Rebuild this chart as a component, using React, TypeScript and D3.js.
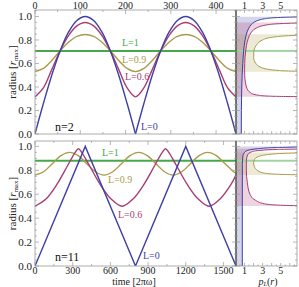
import * as d3 from "d3";
import React from "react";

// n=2: time in units of 2π/ω, radius in r_max
const timeN2 = [0, 18.5, 37, 55.5, 74, 92.5, 111, 129.5, 148, 166.5, 185, 203.5, 222, 240.5, 259, 277.5, 296, 314.5, 333, 351.5, 370, 388.5, 407, 425.5, 444];
const n2L0 = [0, 0.259, 0.5, 0.707, 0.866, 0.966, 1, 0.966, 0.866, 0.707, 0.5, 0.259, 0, 0.259, 0.5, 0.707, 0.866, 0.966, 1, 0.966, 0.866, 0.707, 0.5, 0.259, 0];
const n2L06 = [0.316, 0.392, 0.548, 0.707, 0.837, 0.92, 0.949, 0.92, 0.837, 0.707, 0.548, 0.392, 0.316, 0.392, 0.548, 0.707, 0.837, 0.92, 0.949, 0.92, 0.837, 0.707, 0.548, 0.392, 0.316];
const n2L09 = [0.531, 0.558, 0.625, 0.707, 0.78, 0.83, 0.847, 0.83, 0.78, 0.707, 0.625, 0.558, 0.531, 0.558, 0.625, 0.707, 0.78, 0.83, 0.847, 0.83, 0.78, 0.707, 0.625, 0.558, 0.531];
const n2L1 = 0.707;

// n=11
const n11L0Time = [0, 400, 800, 1200, 1600];
const n11L0 = [0, 1, 0, 1, 0];
const n11L06Time = [0, 87, 173, 260, 320, 346, 372, 433, 520, 606, 693, 780, 866, 953, 1013, 1039, 1065, 1126, 1213, 1299, 1386, 1473, 1559, 1600];
const n11L06 = [0.5, 0.56, 0.68, 0.84, 0.95, 0.98, 0.95, 0.84, 0.68, 0.56, 0.5, 0.56, 0.68, 0.84, 0.95, 0.98, 0.95, 0.84, 0.68, 0.56, 0.5, 0.56, 0.68, 0.76];
const n11L09Time = [0, 69, 137, 206, 275, 344, 413, 481, 550, 619, 687, 756, 825, 894, 963, 1031, 1100, 1169, 1237, 1306, 1375, 1444, 1513, 1581, 1600];
const n11L09 = [0.76, 0.788, 0.855, 0.922, 0.95, 0.922, 0.855, 0.788, 0.76, 0.788, 0.855, 0.922, 0.95, 0.922, 0.855, 0.788, 0.76, 0.788, 0.855, 0.922, 0.95, 0.922, 0.855, 0.788, 0.775];
const n11L1 = 0.88;

// radial distributions p_L(r): radius, density
const n2DensL0R = [0, 0.2, 0.4, 0.6, 0.7, 0.8, 0.85, 0.9, 0.93, 0.95, 0.97, 0.98, 0.99, 0.995, 0.998];
const n2DensL0P = [0.64, 0.65, 0.69, 0.8, 0.89, 1.06, 1.21, 1.46, 1.73, 2.04, 2.62, 3.2, 4.5, 6.4, 10];
const n2DensL06R = [0.3165, 0.318, 0.322, 0.33, 0.35, 0.4, 0.5, 0.55, 0.6, 0.707, 0.8, 0.85, 0.9, 0.93, 0.94, 0.945, 0.948];
const n2DensL06P = [17, 6.8, 3.78, 2.5, 1.68, 1.21, 1.02, 1.01, 1.02, 1.125, 1.36, 1.63, 2.27, 3.61, 5.28, 8.1, 18];
const n2DensL09R = [0.5295, 0.532, 0.535, 0.54, 0.56, 0.6, 0.65, 0.7, 0.75, 0.8, 0.82, 0.84, 0.845, 0.848];
const n2DensL09P = [26, 9.4, 6.56, 4.88, 3.05, 2.25, 2.01, 2.03, 2.26, 3.0, 3.82, 6.83, 10.5, 30];

const n11DensL0R = [0, 0.5, 0.85, 0.92, 0.95, 0.97, 0.98, 0.99, 0.995, 0.999];
const n11DensL0P = [0.75, 0.75, 0.76, 0.82, 1.0, 1.5, 2.4, 4.5, 8, 15];
const n11DensL06R = [0.501, 0.505, 0.51, 0.52, 0.55, 0.6, 0.7, 0.8, 0.88, 0.93, 0.955, 0.967, 0.974, 0.978, 0.98];
const n11DensL06P = [15, 6.4, 4.5, 3.2, 2.2, 1.6, 1.3, 1.2, 1.2, 1.35, 1.8, 2.8, 4.5, 8, 15];
const n11DensL09R = [0.7605, 0.762, 0.765, 0.77, 0.78, 0.8, 0.83, 0.86, 0.89, 0.91, 0.925, 0.935, 0.942, 0.946, 0.948];
const n11DensL09P = [15, 8, 5.5, 4.0, 3.0, 2.4, 2.1, 2.0, 2.1, 2.4, 3.0, 4.0, 5.5, 8, 15];

const topTicks = [0, 100, 200, 300, 400];
const bottomTicks = [0, 300, 600, 900, 1200, 1500];
const radiusTicks = [0, 0.2, 0.4, 0.6, 0.8, 1.0];
const pTicks = [1, 3, 5];

const BLUE = "#3f3fa6";
const RED = "#a83d74";
const OLIVE = "#a99b4b";
const GREEN = "#45a84a";
const FRAME = "#9a9a9a";
const FONT = "'Liberation Serif', 'DejaVu Serif', serif";

const xN2 = d3.scaleLinear().domain([0, 444]).range([35, 236]);
const xN11 = d3.scaleLinear().domain([0, 1600]).range([35, 236]);
const yN2 = d3.scaleLinear().domain([0, 1.055]).range([134, 10]);
const yN11 = d3.scaleLinear().domain([0, 1.045]).range([266, 141]);
const pX = d3.scaleLinear().domain([0, 6.8]).range([235.5, 297]);

const zip = (a: number[], b: number[]) => a.map((v, i) => [v, b[i]] as [number, number]);

// split |sin|-like curve into arches between zeros so the cusps stay sharp
const arches = (pts: [number, number][]) => {
  const segs: [number, number][][] = [];
  let cur: [number, number][] = [];
  pts.forEach((p) => {
    cur.push(p);
    if (p[1] === 0 && cur.length > 1) {
      segs.push(cur);
      cur = [p];
    }
  });
  if (cur.length > 1) segs.push(cur);
  return segs;
};

const Panel = ({ id, x, y, timeTicks, minorStep, series, dens, level, n, labels, showTop }: any) => {
  const [y0, y1] = [y.range()[1], y.range()[0]];
  const line = d3.line<[number, number]>().x((d) => x(d[0])).y((d) => y(d[1]));
  const smooth = d3.line<[number, number]>().x((d) => x(d[0])).y((d) => y(d[1])).curve(d3.curveCatmullRom.alpha(0.5));
  const densLine = d3.line<[number, number]>().x((d) => pX(d[1])).y((d) => y(d[0])).curve(d3.curveMonotoneY);
  const densArea = d3.area<[number, number]>().y((d) => y(d[0])).x0(pX(0)).x1((d) => pX(d[1])).curve(d3.curveMonotoneY);

  const rMinor = d3.range(0, y.domain()[1], 0.05);
  const tMinor = d3.range(0, x.domain()[1] + 1, minorStep);
  const pMinor = d3.range(0.5, 6.8, 0.5);
  const labelY = showTop ? 9 : 273.5;

  return (
    <g>
      <defs>
        <clipPath id={`${id}-l`}><rect x={35} y={y0} width={201} height={y1 - y0} /></clipPath>
        <clipPath id={`${id}-r`}><rect x={236} y={y0} width={61} height={y1 - y0} /></clipPath>
      </defs>

      {/* right panel: distributions */}
      <g clipPath={`url(#${id}-r)`}>
        {dens.map((d: any, i: number) => (
          <path key={"a" + i} d={densArea(d.pts) || ""} fill={d.color} fillOpacity={0.22} />
        ))}
        <rect x={236} y={y(level + 0.008)} width={61} height={y(level - 0.008) - y(level + 0.008)} fill="#9ed39e" />
        {dens.map((d: any, i: number) => (
          <path key={"l" + i} d={densLine(d.pts) || ""} fill="none" stroke={d.color} strokeWidth={1} />
        ))}
      </g>

      {/* left panel: radius vs time */}
      <g clipPath={`url(#${id}-l)`}>
        <path d={line([[x.domain()[0], level], [x.domain()[1], level]]) || ""} stroke={GREEN} strokeWidth={2} fill="none" />
        {series.map((s: any, i: number) =>
          s.segs.map((seg: any, j: number) => (
            <path key={i + "-" + j} d={(s.linear ? line : smooth)(seg) || ""} fill="none" stroke={s.color} strokeWidth={1.4} />
          ))
        )}
      </g>

      {/* frames */}
      <rect x={35} y={y0} width={201} height={y1 - y0} fill="none" stroke={FRAME} strokeWidth={0.8} />
      <rect x={236} y={y0} width={61} height={y1 - y0} fill="none" stroke={FRAME} strokeWidth={0.8} />
      <line x1={236} x2={236} y1={y0} y2={y1} stroke="#2a3a2a" strokeWidth={1} />

      {/* radius ticks */}
      {rMinor.map((r: number, i: number) => {
        const major = i % 4 === 0;
        const len = major ? 4 : 2;
        return (
          <g key={"rt" + i} stroke={FRAME} strokeWidth={0.7}>
            <line x1={35} x2={35 + len} y1={y(r)} y2={y(r)} />
            <line x1={236} x2={236 - len} y1={y(r)} y2={y(r)} />
            <line x1={236} x2={236 + len} y1={y(r)} y2={y(r)} />
            <line x1={297} x2={297 - len} y1={y(r)} y2={y(r)} />
          </g>
        );
      })}
      {radiusTicks.map((r) => (
        <text key={"rl" + r} x={32} y={y(r)} dy="0.35em" textAnchor="end" fontSize={11} fill="#222">{r.toFixed(1)}</text>
      ))}

      {/* time ticks */}
      {tMinor.map((t: number, i: number) => {
        const major = timeTicks.includes(t);
        const len = major ? 4 : 2;
        return (
          <g key={"tt" + i} stroke={FRAME} strokeWidth={0.7}>
            <line x1={x(t)} x2={x(t)} y1={y0} y2={y0 + len} />
            <line x1={x(t)} x2={x(t)} y1={y1} y2={y1 - len} />
          </g>
        );
      })}
      {pMinor.map((p: number, i: number) => {
        const len = Number.isInteger(p) ? 3 : 1.5;
        return (
          <g key={"pt" + i} stroke={FRAME} strokeWidth={0.7}>
            <line x1={pX(p)} x2={pX(p)} y1={y0} y2={y0 + len} />
            <line x1={pX(p)} x2={pX(p)} y1={y1} y2={y1 - len} />
          </g>
        );
      })}
      {timeTicks.map((t: number) => (
        <text key={"tl" + t} x={x(t)} y={labelY} textAnchor="middle" fontSize={10} fill="#222">{t}</text>
      ))}
      {pTicks.map((p) => (
        <text key={"pl" + p} x={pX(p)} y={labelY} textAnchor="middle" fontSize={10} fill="#222">{p}</text>
      ))}

      {/* y label */}
      <text transform={`translate(16,${(y0 + y1) / 2}) rotate(-90)`} textAnchor="middle" fontSize={11} fill="#222">
        radius [<tspan fontStyle="italic">r</tspan><tspan fontSize={7} dy={2}>max</tspan><tspan dy={-2}>]</tspan>
      </text>

      {/* annotations */}
      <text x={55} y={n.y} fontSize={12} fill="#111">{n.text}</text>
      {labels.map((l: any) => (
        <text key={l.text} x={l.x} y={l.y} fontSize={10} fill={l.color}>{l.text}</text>
      ))}
    </g>
  );
};

export default function App() {
  const top = {
    series: [
      { color: OLIVE, segs: [zip(timeN2, n2L09)] },
      { color: RED, segs: [zip(timeN2, n2L06)] },
      { color: BLUE, segs: arches(zip(timeN2, n2L0)) },
    ],
    dens: [
      { color: BLUE, pts: zip(n2DensL0R, n2DensL0P) },
      { color: RED, pts: zip(n2DensL06R, n2DensL06P) },
      { color: OLIVE, pts: zip(n2DensL09R, n2DensL09P) },
    ],
    labels: [
      { text: "L=1", x: 122, y: 46, color: GREEN },
      { text: "L=0.9", x: 122, y: 63, color: OLIVE },
      { text: "L=0.6", x: 125, y: 80, color: RED },
      { text: "L=0", x: 141, y: 130, color: BLUE },
    ],
  };
  const bottom = {
    series: [
      { color: OLIVE, segs: [zip(n11L09Time, n11L09)] },
      { color: RED, segs: [zip(n11L06Time, n11L06)] },
      { color: BLUE, linear: true, segs: [zip(n11L0Time, n11L0)] },
    ],
    dens: [
      { color: BLUE, pts: zip(n11DensL0R, n11DensL0P) },
      { color: RED, pts: zip(n11DensL06R, n11DensL06P) },
      { color: OLIVE, pts: zip(n11DensL09R, n11DensL09P) },
    ],
    labels: [
      { text: "L=1", x: 102, y: 156, color: GREEN },
      { text: "L=0.9", x: 108, y: 183, color: OLIVE },
      { text: "L=0.6", x: 118, y: 218, color: RED },
      { text: "L=0", x: 143, y: 259, color: BLUE },
    ],
  };

  return (
    <svg width={299} height={287} style={{ position: "absolute", left: 0, top: 0, background: "#fff" }} fontFamily={FONT}>
      <Panel id="n2" x={xN2} y={yN2} timeTicks={topTicks} minorStep={50} series={top.series} dens={top.dens}
        level={n2L1} n={{ text: "n=2", y: 131 }} labels={top.labels} showTop={true} />
      <Panel id="n11" x={xN11} y={yN11} timeTicks={bottomTicks} minorStep={150} series={bottom.series} dens={bottom.dens}
        level={n11L1} n={{ text: "n=11", y: 261 }} labels={bottom.labels} showTop={false} />
      <text x={134} y={284.5} textAnchor="middle" fontSize={10} fill="#222">time [2πω]</text>
      <text x={268} y={284.5} textAnchor="middle" fontSize={10} fill="#222">
        <tspan fontStyle="italic">p</tspan><tspan fontStyle="italic" fontSize={6.5} dy={1}>L</tspan><tspan dy={-1}>(</tspan><tspan fontStyle="italic">r</tspan>)
      </text>
    </svg>
  );
}
